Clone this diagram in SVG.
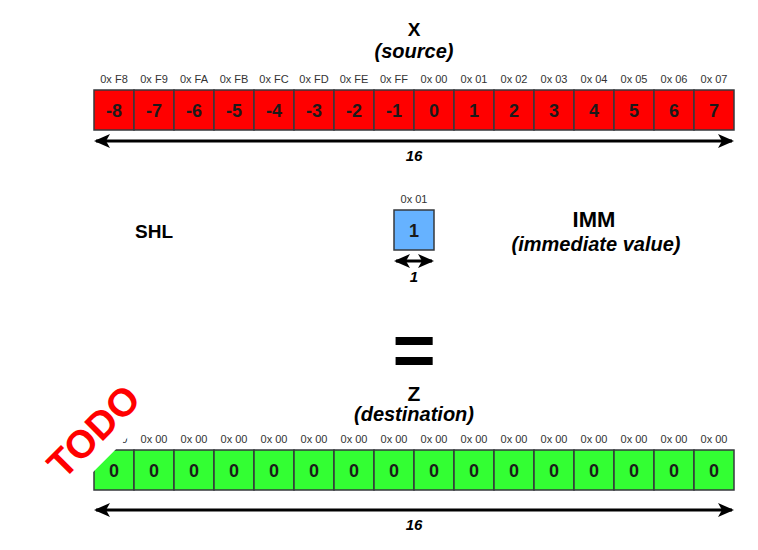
<svg xmlns="http://www.w3.org/2000/svg" width="758" height="550" viewBox="0 0 758 550">
<style>
  text { font-family: "Liberation Sans", Arial, Helvetica, sans-serif; }
  .hex { font-size: 11px; fill: #333333; text-anchor: middle; }
  .val { font-size: 18px; font-weight: bold; fill: #1a1a1a; text-anchor: middle; }
  .red { fill: #ff0000; stroke: #36393d; stroke-width: 1.5; }
  .green { fill: #33ff33; stroke: #36393d; stroke-width: 1.5; }
  .blue { fill: #66b2ff; stroke: #36393d; stroke-width: 1.5; }
  .title { font-size: 21px; font-weight: bold; fill: #000; text-anchor: middle; }
  .sub { font-size: 20px; font-weight: bold; font-style: italic; fill: #000; text-anchor: middle; }
  .dim { font-size: 15px; font-weight: bold; font-style: italic; fill: #000; text-anchor: middle; }
  .conn { stroke: #000; stroke-width: 3; fill: none; }
</style>
<defs>
  <marker id="ah" viewBox="0 0 16 14" refX="14" refY="7" markerWidth="16" markerHeight="14" markerUnits="userSpaceOnUse" orient="auto-start-reverse">
    <path d="M0,0 L16,7 L0,14 L4,7 Z" fill="#000"/>
  </marker>
</defs>
<rect width="758" height="550" fill="#ffffff"/>

<g id="title-x">
  <text class="title" x="414" y="36" style="font-size:19px">X</text>
  <text class="sub" x="414" y="58">(source)</text>
</g>

<g id="row-x">
  <g id="x0"><rect class="red" x="94" y="90" width="40" height="40"/><text class="hex" x="114" y="83">0x F8</text><text class="val" x="114" y="117">-8</text></g>
  <g id="x1"><rect class="red" x="134" y="90" width="40" height="40"/><text class="hex" x="154" y="83">0x F9</text><text class="val" x="154" y="117">-7</text></g>
  <g id="x2"><rect class="red" x="174" y="90" width="40" height="40"/><text class="hex" x="194" y="83">0x FA</text><text class="val" x="194" y="117">-6</text></g>
  <g id="x3"><rect class="red" x="214" y="90" width="40" height="40"/><text class="hex" x="234" y="83">0x FB</text><text class="val" x="234" y="117">-5</text></g>
  <g id="x4"><rect class="red" x="254" y="90" width="40" height="40"/><text class="hex" x="274" y="83">0x FC</text><text class="val" x="274" y="117">-4</text></g>
  <g id="x5"><rect class="red" x="294" y="90" width="40" height="40"/><text class="hex" x="314" y="83">0x FD</text><text class="val" x="314" y="117">-3</text></g>
  <g id="x6"><rect class="red" x="334" y="90" width="40" height="40"/><text class="hex" x="354" y="83">0x FE</text><text class="val" x="354" y="117">-2</text></g>
  <g id="x7"><rect class="red" x="374" y="90" width="40" height="40"/><text class="hex" x="394" y="83">0x FF</text><text class="val" x="394" y="117">-1</text></g>
  <g id="x8"><rect class="red" x="414" y="90" width="40" height="40"/><text class="hex" x="434" y="83">0x 00</text><text class="val" x="434" y="117">0</text></g>
  <g id="x9"><rect class="red" x="454" y="90" width="40" height="40"/><text class="hex" x="474" y="83">0x 01</text><text class="val" x="474" y="117">1</text></g>
  <g id="x10"><rect class="red" x="494" y="90" width="40" height="40"/><text class="hex" x="514" y="83">0x 02</text><text class="val" x="514" y="117">2</text></g>
  <g id="x11"><rect class="red" x="534" y="90" width="40" height="40"/><text class="hex" x="554" y="83">0x 03</text><text class="val" x="554" y="117">3</text></g>
  <g id="x12"><rect class="red" x="574" y="90" width="40" height="40"/><text class="hex" x="594" y="83">0x 04</text><text class="val" x="594" y="117">4</text></g>
  <g id="x13"><rect class="red" x="614" y="90" width="40" height="40"/><text class="hex" x="634" y="83">0x 05</text><text class="val" x="634" y="117">5</text></g>
  <g id="x14"><rect class="red" x="654" y="90" width="40" height="40"/><text class="hex" x="674" y="83">0x 06</text><text class="val" x="674" y="117">6</text></g>
  <g id="x15"><rect class="red" x="694" y="90" width="40" height="40"/><text class="hex" x="714" y="83">0x 07</text><text class="val" x="714" y="117">7</text></g>
</g>

<g id="op-shl">
  <text x="135" y="238" style="font-size:19px;font-weight:bold" fill="#000">SHL</text>
</g>

<g id="imm">
  <text class="hex" x="414" y="203">0x 01</text>
  <rect class="blue" x="394" y="210" width="40" height="40"/>
  <text class="val" x="414" y="237">1</text>
</g>

<g id="title-imm">
  <text class="title" x="594" y="227" style="font-size:22px">IMM</text>
  <text class="sub" x="596" y="251">(immediate value)</text>
</g>

<g id="equals">
  <text x="414" y="376" style="font-size:74px;font-weight:bold;text-anchor:middle" fill="#000">=</text>
</g>

<g id="title-z">
  <text class="title" x="414" y="401">Z</text>
  <text class="sub" x="414" y="421">(destination)</text>
</g>

<g id="row-z">
  <g id="z0"><rect class="green" x="94" y="450" width="40" height="40"/><text class="hex" x="114" y="443">0x 00</text><text class="val" x="114" y="477">0</text></g>
  <g id="z1"><rect class="green" x="134" y="450" width="40" height="40"/><text class="hex" x="154" y="443">0x 00</text><text class="val" x="154" y="477">0</text></g>
  <g id="z2"><rect class="green" x="174" y="450" width="40" height="40"/><text class="hex" x="194" y="443">0x 00</text><text class="val" x="194" y="477">0</text></g>
  <g id="z3"><rect class="green" x="214" y="450" width="40" height="40"/><text class="hex" x="234" y="443">0x 00</text><text class="val" x="234" y="477">0</text></g>
  <g id="z4"><rect class="green" x="254" y="450" width="40" height="40"/><text class="hex" x="274" y="443">0x 00</text><text class="val" x="274" y="477">0</text></g>
  <g id="z5"><rect class="green" x="294" y="450" width="40" height="40"/><text class="hex" x="314" y="443">0x 00</text><text class="val" x="314" y="477">0</text></g>
  <g id="z6"><rect class="green" x="334" y="450" width="40" height="40"/><text class="hex" x="354" y="443">0x 00</text><text class="val" x="354" y="477">0</text></g>
  <g id="z7"><rect class="green" x="374" y="450" width="40" height="40"/><text class="hex" x="394" y="443">0x 00</text><text class="val" x="394" y="477">0</text></g>
  <g id="z8"><rect class="green" x="414" y="450" width="40" height="40"/><text class="hex" x="434" y="443">0x 00</text><text class="val" x="434" y="477">0</text></g>
  <g id="z9"><rect class="green" x="454" y="450" width="40" height="40"/><text class="hex" x="474" y="443">0x 00</text><text class="val" x="474" y="477">0</text></g>
  <g id="z10"><rect class="green" x="494" y="450" width="40" height="40"/><text class="hex" x="514" y="443">0x 00</text><text class="val" x="514" y="477">0</text></g>
  <g id="z11"><rect class="green" x="534" y="450" width="40" height="40"/><text class="hex" x="554" y="443">0x 00</text><text class="val" x="554" y="477">0</text></g>
  <g id="z12"><rect class="green" x="574" y="450" width="40" height="40"/><text class="hex" x="594" y="443">0x 00</text><text class="val" x="594" y="477">0</text></g>
  <g id="z13"><rect class="green" x="614" y="450" width="40" height="40"/><text class="hex" x="634" y="443">0x 00</text><text class="val" x="634" y="477">0</text></g>
  <g id="z14"><rect class="green" x="654" y="450" width="40" height="40"/><text class="hex" x="674" y="443">0x 00</text><text class="val" x="674" y="477">0</text></g>
  <g id="z15"><rect class="green" x="694" y="450" width="40" height="40"/><text class="hex" x="714" y="443">0x 00</text><text class="val" x="714" y="477">0</text></g>
</g>

<g id="connectors">
  <line class="conn" x1="96" y1="141" x2="732" y2="141" marker-start="url(#ah)" marker-end="url(#ah)"/>
  <text class="dim" x="414" y="161">16</text>
  <line class="conn" x1="396" y1="261" x2="432" y2="261" marker-start="url(#ah)" marker-end="url(#ah)"/>
  <text class="dim" x="414" y="282">1</text>
  <line class="conn" x1="96" y1="510" x2="732" y2="510" marker-start="url(#ah)" marker-end="url(#ah)"/>
  <text class="dim" x="414" y="530">16</text>
</g>

<g id="todo" transform="translate(103,441) rotate(-45)">
  <rect x="-64" y="-35" width="128" height="50" fill="#ffffff"/>
  <text x="0" y="0" style="font-size:39px;font-weight:bold;text-anchor:middle" fill="#ff0000">TODO</text>
</g>
</svg>
